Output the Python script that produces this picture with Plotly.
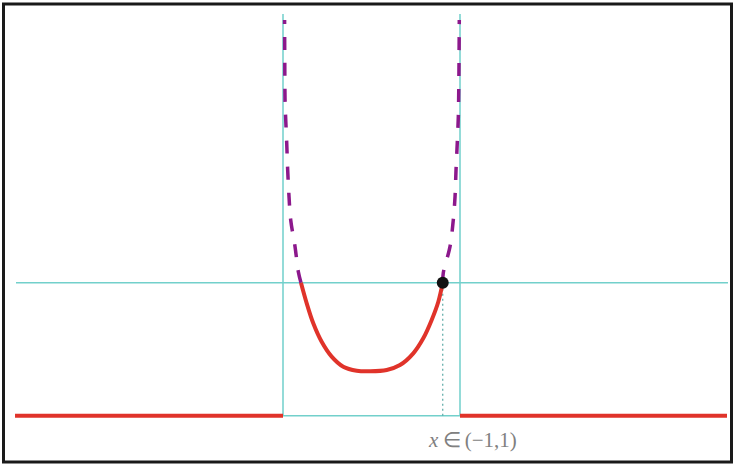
import plotly.graph_objects as go

# Values (data units: x in [-1,1] interval, threshold y=1)
red_x = [-0.797, -0.732, -0.658, -0.563, -0.450, -0.319, -0.167, -0.017,
         0.172, 0.322, 0.472, 0.585, 0.680, 0.755, 0.805]
red_y = [1.000, 0.845, 0.695, 0.556, 0.444, 0.368, 0.338, 0.334,
         0.344, 0.381, 0.469, 0.582, 0.720, 0.857, 1.000]

left_branch_x = [-0.797, -0.827, -0.864, -0.913, -0.932, -0.947, -0.958, -0.969, -0.977, -0.980, -0.982]
left_branch_y = [1.000, 1.083, 1.271, 1.471, 1.647, 1.847, 2.050, 2.223, 2.374, 2.674, 2.975]

right_branch_x = [0.805, 0.811, 0.887, 0.924, 0.944, 0.955, 0.969, 0.981, 0.986, 0.989, 0.992]
right_branch_y = [1.000, 1.073, 1.271, 1.471, 1.647, 1.847, 2.050, 2.248, 2.45, 2.674, 2.975]

outside_left_x = [-4.028, -1.0]
outside_right_x = [1.0, 4.017]
outside_y = [0.0, 0.0]

threshold_x = [-4.017, 4.028]
threshold_y = [1.0, 1.0]

box_x = [-1.0, -1.0, 1.0, 1.0]
box_y = [3.02, 0.0, 0.0, 3.02]

point_x = [0.805]
point_y = [1.0]

label_text = "<i>x</i>\u2009∈\u2009(−1,1)"

TEAL = "#72d0cb"
RED = "#e0332a"
PURPLE = "#8c188c"

fig = go.Figure()

# teal guides
fig.add_trace(go.Scatter(x=threshold_x, y=threshold_y, mode="lines",
                         line=dict(color=TEAL, width=1.5), hoverinfo="skip"))
fig.add_trace(go.Scatter(x=box_x, y=box_y, mode="lines",
                         line=dict(color=TEAL, width=1.5), hoverinfo="skip"))
fig.add_trace(go.Scatter(x=[point_x[0], point_x[0]], y=[0, point_y[0]], mode="lines",
                         line=dict(color="#5aa9a5", width=1.2, dash="2px,3px"), hoverinfo="skip"))

# outside (red baseline)
fig.add_trace(go.Scatter(x=outside_left_x, y=outside_y, mode="lines",
                         line=dict(color=RED, width=4), hoverinfo="skip"))
fig.add_trace(go.Scatter(x=outside_right_x, y=outside_y, mode="lines",
                         line=dict(color=RED, width=4), hoverinfo="skip"))

# purple dashed branches
fig.add_trace(go.Scatter(x=left_branch_x, y=left_branch_y, mode="lines",
                         line=dict(color=PURPLE, width=3.5, dash="13px,13px", shape="spline"),
                         hoverinfo="skip"))
fig.add_trace(go.Scatter(x=right_branch_x, y=right_branch_y, mode="lines",
                         line=dict(color=PURPLE, width=3.5, dash="13px,13px", shape="spline"),
                         hoverinfo="skip"))

# red curve
fig.add_trace(go.Scatter(x=red_x, y=red_y, mode="lines",
                         line=dict(color=RED, width=4, shape="spline"), hoverinfo="skip"))

# point
fig.add_trace(go.Scatter(x=point_x, y=point_y, mode="markers",
                         marker=dict(color="#111111", size=12), hoverinfo="skip"))

W, H = 733, 464
fig.add_annotation(x=1.136, y=-0.185, xref="x", yref="y", text=label_text, showarrow=False,
                   font=dict(family="Liberation Serif, serif", size=21, color="#808080"))

# frame
fig.add_shape(type="rect", xref="paper", yref="paper",
              x0=3.5 / W, x1=731.5 / W, y0=1 - 462 / H, y1=1 - 4 / H,
              line=dict(color="#1a1a1a", width=3))

fig.update_layout(
    width=W, height=H,
    margin=dict(l=0, r=0, t=0, b=0),
    paper_bgcolor="white", plot_bgcolor="white",
    showlegend=False,
    xaxis=dict(range=[(0 - 371.5) / 88.5, (W - 371.5) / 88.5], visible=False, fixedrange=True),
    yaxis=dict(range=[(415.7 - H) / 133, 415.7 / 133], visible=False, fixedrange=True),
)

fig.write_html("out.html", config={"displayModeBar": False},
               post_script="document.body.style.margin='0';document.body.style.overflow='hidden';")
